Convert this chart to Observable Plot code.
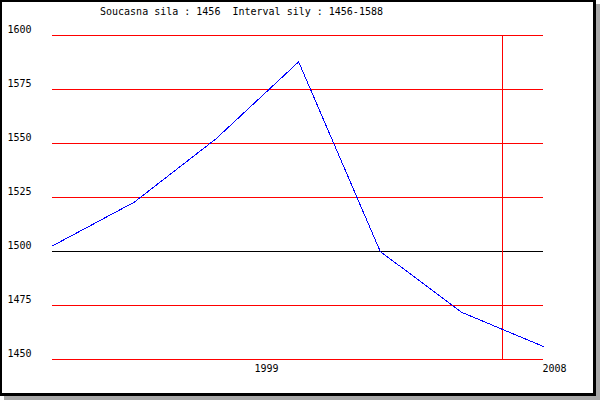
<!DOCTYPE html>
<html>
<head>
<meta charset="utf-8">
<script src="https://cdn.jsdelivr.net/npm/d3@7"></script>
<script src="https://cdn.jsdelivr.net/npm/@observablehq/plot@0.6"></script>
<style>
  html, body { margin: 0; padding: 0; background: #fff; }
  #wrap { position: relative; width: 600px; height: 400px; overflow: hidden; }
  #chart { position: absolute; left: 0; top: 0; }
  #title { position: absolute; left: 100px; top: 6px; font: 10px "DejaVu Sans Mono", monospace; white-space: pre; color: #000; }
  #frame { position: absolute; left: 0; top: 0; width: 591px; height: 391px;
           border-style: solid; border-color: #000; border-width: 2px 3px 3px 2px;
           box-shadow: 4px 4px 0 #a8a8a8; pointer-events: none; }
</style>
</head>
<body>
<div id="wrap">
  <div id="chart"></div>
  <div id="title"></div>
  <div id="frame"></div>
</div>
<script>
const titleText = "Soucasna sila : 1456  Interval sily : 1456-1588";
const years = [1992.66, 1995.21, 1997.77, 2000.35, 2002.9, 2005.45, 2008];
const values = [1502.6, 1522.8, 1552.2, 1587.8, 1500, 1471.8, 1456];
const yTicks = [1450, 1475, 1500, 1525, 1550, 1575, 1600];
const xTicks = [1999, 2008];
const markerYear = [2006.72];
const baseLine = [1500];

document.getElementById("title").textContent = titleText;

const data = years.map((x, i) => ({x, y: values[i]}));

const chart = Plot.plot({
  width: 600,
  height: 400,
  marginLeft: 52,
  marginRight: 57,
  marginTop: 35,
  marginBottom: 41,
  style: { fontFamily: "DejaVu Sans Mono, monospace", fontSize: "10px", color: "#000", background: "transparent" },
  x: { domain: [years[0], years[years.length - 1]] },
  y: { domain: [1450, 1600] },
  marks: [
    Plot.ruleY(yTicks.filter(d => !baseLine.includes(d)), { stroke: "#ff0000", strokeWidth: 1, shapeRendering: "crispEdges" }),
    Plot.ruleY(baseLine, { stroke: "#000", strokeWidth: 1, shapeRendering: "crispEdges" }),
    Plot.ruleX(markerYear, { stroke: "#ff0000", strokeWidth: 1, shapeRendering: "crispEdges" }),
    Plot.line(data, { x: "x", y: "y", stroke: "#0000ff", strokeWidth: 1, shapeRendering: "crispEdges" }),
    Plot.axisY({ ticks: yTicks, tickSize: 0, tickPadding: 0, textAnchor: "start", dx: -45, dy: -6, label: null, tickFormat: d => String(d) }),
    Plot.axisX({ ticks: xTicks, tickSize: 0, tickPadding: 5, textAnchor: "start", dx: -1, label: null, tickFormat: d => String(d) })
  ]
});
document.getElementById("chart").appendChild(chart);
</script>
</body>
</html>
